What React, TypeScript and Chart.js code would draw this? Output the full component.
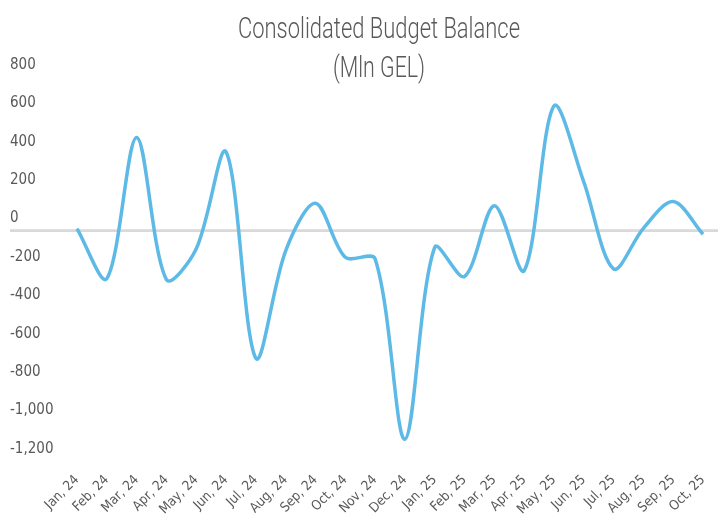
import React, { useEffect, useRef } from "react";
import { Chart, registerables } from "chart.js";

Chart.register(...registerables);

const categories = [
  "Jan, 24", "Feb, 24", "Mar, 24", "Apr, 24", "May, 24", "Jun, 24",
  "Jul, 24", "Aug, 24", "Sep, 24", "Oct, 24", "Nov, 24", "Dec, 24",
  "Jan, 25", "Feb, 25", "Mar, 25", "Apr, 25", "May, 25", "Jun, 25",
  "Jul, 25", "Aug, 25", "Sep, 25", "Oct, 25",
];

const balance = [
  10, -250, 485, -255, -95, 410, -665, -105, 142, -139, -147, -1087,
  -87, -239, 130, -209, 649, 254, -199, 12, 151, -19,
];

const titleLines = ["Consolidated Budget Balance", "(Mln GEL)"];
const yMin = -1200;
const yMax = 800;
const yStep = 200;

const FONT = "'DejaVu Sans Condensed', 'DejaVu Sans', sans-serif";
const TITLE_FONT = "Roboto, 'DejaVu Sans Condensed', sans-serif";
const TEXT = "#595959";

const zeroLinePlugin = {
  id: "zeroLine",
  beforeDatasetsDraw(chart: any) {
    const y = chart.scales.y.getPixelForValue(0);
    const ctx = chart.ctx;
    ctx.save();
    ctx.strokeStyle = "#D9D9D9";
    ctx.lineWidth = 2.7;
    ctx.beginPath();
    ctx.moveTo(10, y);
    ctx.lineTo(chart.width, y);
    ctx.stroke();
    ctx.restore();
  },
};

function drawCondensed(ctx: any, text: string, cx: number, baseline: number, targetWidth: number) {
  const w = ctx.measureText(text).width;
  const s = targetWidth / w;
  ctx.save();
  ctx.translate(cx, baseline);
  ctx.scale(s, 1);
  ctx.fillText(text, 0, 0);
  ctx.restore();
}

const titlePlugin = {
  id: "twoLineTitle",
  afterDraw(chart: any) {
    const ctx = chart.ctx;
    ctx.save();
    ctx.fillStyle = TEXT;
    ctx.textAlign = "center";
    ctx.textBaseline = "alphabetic";
    ctx.font = `300 29px ${TITLE_FONT}`;
    drawCondensed(ctx, titleLines[0], 379, 38, 282);
    drawCondensed(ctx, titleLines[1], 379, 77, 92);
    ctx.restore();
  },
};

export default function App() {
  const ref = useRef<HTMLCanvasElement | null>(null);

  useEffect(() => {
    document.body.style.margin = "0";
    const canvas = ref.current;
    if (!canvas) return;
    const chart = new Chart(canvas, {
      type: "line",
      data: {
        labels: categories,
        datasets: [
          {
            data: balance,
            borderColor: "#5DB9E6",
            borderWidth: 3.5,
            pointRadius: 0,
            tension: 0.32,
            fill: false,
          },
        ],
      },
      options: {
        animation: false,
        responsive: false,
        devicePixelRatio: 1,
        layout: { padding: { left: 10, right: 15, top: 77, bottom: 0 } },
        plugins: {
          legend: { display: false },
          title: { display: false },
          tooltip: { enabled: false },
        },
        scales: {
          x: {
            grid: { display: false },
            border: { display: false },
            afterFit(scale: any) {
              scale.height = 54;
            },
            ticks: {
              autoSkip: false,
              maxRotation: 45,
              minRotation: 45,
              color: TEXT,
              font: { family: FONT, size: 13.5 },
              padding: 3,
            },
          },
          y: {
            min: yMin,
            max: yMax,
            grid: { display: false },
            border: { display: false },
            afterFit(scale: any) {
              scale.width = 67;
            },
            ticks: {
              stepSize: yStep,
              crossAlign: "far",
              labelOffset: -12,
              color: TEXT,
              font: { family: FONT, size: 15 },
            },
          },
        },
      },
      plugins: [zeroLinePlugin, titlePlugin],
    });
    return () => chart.destroy();
  }, []);

  return (
    <div style={{ width: 718, height: 515 }}>
      <canvas ref={ref} width={718} height={515} />
    </div>
  );
}
